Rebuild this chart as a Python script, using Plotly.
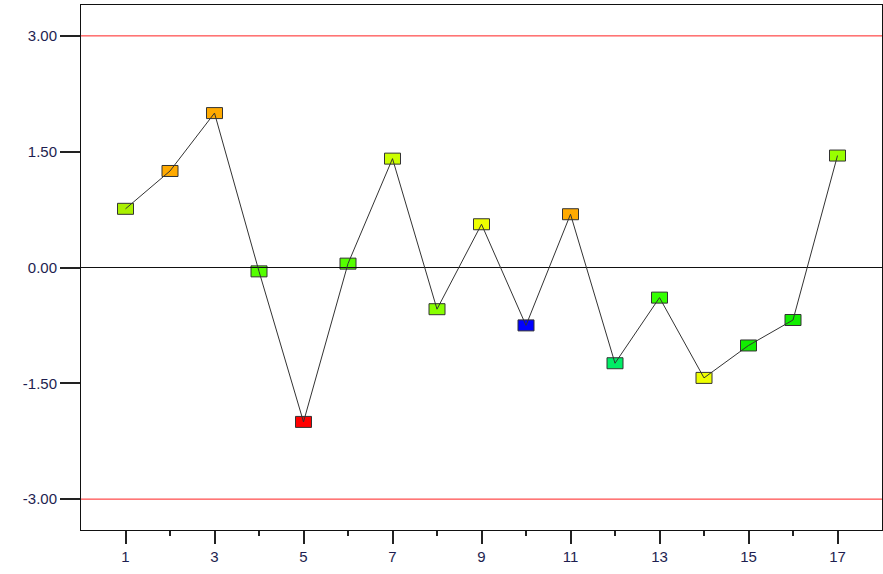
import plotly.graph_objects as go

samples = list(range(1, 18))
values = [0.76, 1.25, 2.00, -0.05, -2.00, 0.05, 1.41, -0.54, 0.56, -0.75,
          0.69, -1.24, -0.39, -1.43, -1.01, -0.68, 1.45]
colors = ["#aaf000", "#ffaa00", "#ffaa00", "#55ff00", "#ff0000", "#55ff00",
          "#ccff00", "#88ff00", "#eeff00", "#0000ff", "#ffaa00", "#00ee66",
          "#33ff00", "#eeff00", "#11ee00", "#11ee00", "#99ff00"]
limits = [3.0, -3.0]
y_ticks = [3.0, 1.5, 0.0, -1.5, -3.0]
x_major = list(range(1, 18, 2))
x_minor = list(range(2, 17, 2))

fig = go.Figure()
fig.add_trace(go.Scatter(x=samples, y=values, mode="lines",
                         line=dict(color="#333333", width=1), hoverinfo="skip",
                         showlegend=False))

shapes = []
for lim in limits:
    shapes.append(dict(type="line", xref="paper", x0=0, x1=1, yref="y", y0=lim, y1=lim,
                       line=dict(color="#ff2020", width=1), layer="below"))
for xv, yv, c in zip(samples, values, colors):
    shapes.append(dict(type="rect", xref="x", yref="y",
                       xsizemode="pixel", ysizemode="pixel",
                       xanchor=xv, yanchor=yv, x0=-8, x1=8, y0=-5.5, y1=5.5,
                       fillcolor=c, line=dict(color="#333333", width=1), layer="below"))

fig.update_layout(
    width=883, height=574,
    margin=dict(l=81, r=1, t=5, b=44, autoexpand=False),
    paper_bgcolor="white", plot_bgcolor="white",
    font=dict(family="Liberation Sans, Arial, sans-serif", size=15, color="#1e1e50"),
    shapes=shapes,
    showlegend=False,
)
fig.update_xaxes(range=[0, 18], tickmode="array", tickvals=x_major,
                 ticktext=[str(v) for v in x_major],
                 ticks="outside", ticklen=13, tickcolor="#222222", tickwidth=1.5,
                 minor=dict(tickmode="array", tickvals=x_minor, ticks="outside", ticklen=5,
                            tickcolor="#222222", tickwidth=1.5, showgrid=False),
                 showgrid=False, zeroline=False, showline=True, linecolor="#111111",
                 linewidth=1, mirror=True, automargin=False)
fig.update_yaxes(range=[-3.4, 3.4], tickmode="array", tickvals=y_ticks,
                 ticktext=[f"{v:.2f}" for v in y_ticks],
                 ticks="outside", ticklen=20, tickcolor="#222222", tickwidth=1.5,
                 showgrid=False, zeroline=True, zerolinecolor="#111111", zerolinewidth=1,
                 showline=True, linecolor="#111111", linewidth=1, mirror=True,
                 automargin=False)

fig.write_html("out.html", config={"displayModeBar": False},
               post_script="document.body.style.margin='0px';")
